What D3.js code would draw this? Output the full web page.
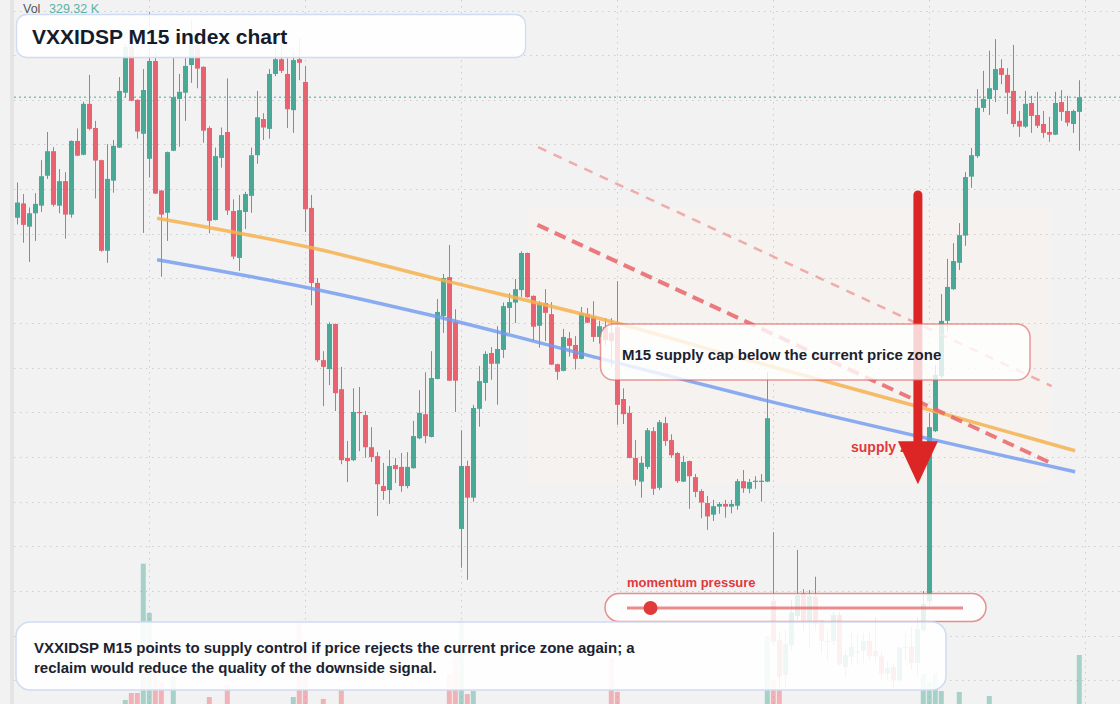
<!DOCTYPE html>
<html><head><meta charset="utf-8">
<script src="https://cdn.jsdelivr.net/npm/d3@7"></script>
<style>html,body{margin:0;padding:0;background:#f2f2f2;}svg{display:block;}</style>
</head><body>
<svg id="chart" width="1120" height="704"></svg>
<script>
// ---------- DATA ----------
const opens = [163.6,166.8,161.6,164.6,166.3,173.0,178.5,166.3,171.8,164.3,180.8,177.7,189.1,183.7,176.5,156.2,171.9,179.3,191.6,201.8,
190.0,182.4,176.8,198.7,169.7,164.7,178.6,190.2,191.6,197.8,202.3,197.4,183.7,163.1,177.0,182.8,165.1,154.6,164.9,168.5,
177.6,185.7,183.5,195.8,199.1,195.8,187.7,199.1,194.0,165.8,149.0,131.7,129.7,139.8,125.2,109.8,109.3,120.1,119.4,112.2,
110.2,103.5,102.6,108.2,107.8,103.5,107.5,114.2,119.6,114.5,127.5,141.6,150.3,140.3,93.9,108.0,100.9,120.8,126.6,133.3,
130.9,134.0,143.4,144.6,147.4,155.7,146.1,139.4,144.5,142.0,130.8,129.3,136.6,135.1,132.0,142.0,141.4,136.9,139.1,137.8,
139.1,123.0,119.9,109.8,104.5,107.8,115.8,103.1,117.6,113.8,110.9,104.5,109.1,105.5,102.4,99.7,97.1,98.9,99.5,98.9,
99.1,104.6,102.9,104.5,104.5,104.5,77.8,69.0,61.2,67.9,74.4,79.5,73.1,78.7,73.5,68.7,68.8,74.6,63.0,65.3,
66.3,66.6,68.8,66.6,65.4,61.5,63.0,60.0,67.4,67.5,63.9,71.2,77.7,115.8,128.1,140.5,147.6,153.5,159.6,172.8,
177.4,188.2,190.2,192.2,197.1,195.6,192.0,185.3,184.0,189.3,186.6,184.6,182.8,182.2,189.5,187.5,184.6,187.3];
const highs = [171.5,168.9,165.9,169.1,176.5,182.8,179.4,174.5,173.8,180.9,183.6,189.6,195.6,185.3,176.6,180.1,181.0,195.1,202.5,203.0,
190.1,196.9,209.7,200.7,169.8,178.4,199.4,195.8,199.4,207.9,203.4,197.5,184.1,179.3,183.8,194.8,167.7,168.7,169.4,179.3,
192.0,187.0,196.9,202.3,202.7,199.3,200.8,203.8,197.6,168.7,150.1,133.7,140.2,139.9,130.2,113.6,125.4,125.7,120.3,116.7,
111.1,108.7,111.6,109.8,110.9,111.1,118.1,125.0,129.0,133.7,145.4,151.0,157.5,143.1,116.0,109.2,121.7,130.4,133.7,134.6,
139.3,144.6,146.7,149.9,156.1,155.8,146.2,144.9,147.6,144.7,130.9,138.7,138.0,137.1,143.6,143.4,144.9,140.5,141.1,141.1,
149.4,125.4,121.4,113.8,110.2,116.5,116.7,118.3,119.0,115.1,111.1,110.3,109.2,106.2,102.8,101.3,100.4,99.9,100.4,100.4,
105.1,107.1,105.1,105.7,106.2,129.0,93.2,70.8,71.2,78.0,89.2,80.4,80.2,83.2,73.6,71.2,75.3,75.3,66.8,70.6,
70.6,70.6,70.6,74.2,66.4,64.1,63.8,67.5,70.6,72.0,74.2,80.0,119.9,130.6,146.5,154.4,157.9,162.4,173.8,179.2,
192.4,196.5,201.0,203.6,199.1,197.1,202.3,187.5,192.0,190.9,191.8,187.5,186.2,191.8,192.2,190.9,187.8,194.4];
const lows = [162.1,158.0,153.7,158.4,164.9,172.3,166.1,164.6,158.9,163.6,177.4,177.6,183.2,167.9,156.0,153.5,169.2,179.2,190.5,189.7,
181.3,160.2,172.6,168.9,150.4,158.4,178.5,179.5,185.3,193.8,192.6,180.4,160.1,163.0,174.8,164.2,154.3,151.7,161.1,164.7,
175.7,181.0,181.3,195.3,196.0,183.7,182.6,194.4,160.4,144.0,131.3,121.4,126.1,120.3,108.4,104.4,109.1,111.3,109.8,108.9,
96.8,100.4,99.5,104.2,102.2,103.0,107.4,114.0,113.1,114.4,127.4,137.8,127.0,120.1,85.2,82.5,100.0,116.8,122.6,127.3,
121.7,132.2,137.8,140.0,145.9,145.7,136.0,134.5,136.0,130.6,127.3,129.2,132.5,129.6,131.9,140.0,135.8,135.4,135.1,130.2,
117.2,117.4,109.7,103.6,100.9,107.3,101.5,102.6,112.5,109.8,104.2,104.4,98.4,101.0,96.3,93.7,95.7,97.3,96.4,97.4,
98.2,102.0,101.9,102.9,100.0,104.4,67.7,58.2,58.2,66.8,73.5,71.2,67.5,71.2,66.1,64.5,67.9,63.4,60.5,63.4,
63.4,63.9,64.5,64.1,60.0,60.0,58.2,59.6,64.5,62.3,60.8,70.8,76.8,115.6,127.7,138.2,147.4,151.9,157.3,170.3,
177.0,187.3,186.6,189.5,193.5,186.8,183.9,181.7,183.7,182.6,183.7,181.5,180.6,182.1,185.3,184.1,182.6,178.6];
const closes = [167.0,162.0,164.6,166.7,172.9,178.5,166.5,171.8,164.3,180.8,177.5,189.1,183.5,176.4,156.2,172.3,179.7,192.0,201.8,189.8,
182.9,192.2,198.7,169.0,164.3,178.3,190.6,191.8,197.6,202.7,197.0,183.1,162.9,177.4,182.1,165.2,154.9,165.3,168.9,177.6,
186.1,183.8,195.8,199.1,196.5,187.9,198.9,198.3,165.5,149.0,131.7,130.2,139.8,124.3,109.3,109.1,120.1,119.9,112.2,110.0,
103.9,102.4,108.0,107.3,103.5,107.8,114.7,119.9,114.7,127.7,142.5,150.1,127.1,127.1,108.0,100.9,121.0,127.0,133.1,130.9,
134.2,143.8,144.7,147.6,155.7,145.8,139.2,144.5,142.3,130.7,129.1,136.9,134.9,132.0,142.2,140.1,136.9,139.3,136.2,136.0,
121.7,119.6,109.8,104.9,108.7,116.0,102.9,117.8,113.6,110.4,104.6,108.9,105.7,102.2,99.8,96.7,99.0,99.5,98.9,99.5,
104.6,103.0,104.4,104.7,104.7,118.7,68.6,60.8,68.1,75.2,79.1,73.1,78.9,72.7,68.8,68.8,74.6,63.6,65.6,67.5,
66.5,68.8,65.4,65.4,61.5,62.7,60.0,67.3,67.5,63.8,71.5,77.1,116.7,128.4,140.5,148.1,153.9,159.7,172.7,177.6,
188.2,190.2,192.6,196.9,195.6,191.6,184.6,184.0,189.1,186.4,184.2,182.6,182.2,189.3,187.3,184.9,187.5,190.6];
// volume in thousands, one per candle
const volumes = (() => { const v = new Array(178).fill(0);
  const vis = {18:27,19:74,20:74,21:943,22:612,23:350,24:146,26:188,32:47,35:130,46:47,47:544,48:430,51:34,54:94,
    72:197,73:318,74:553,75:67,76:87,99:309,100:81,125:457,126:161,127:94,151:202,152:148,153:208,154:87,157:81,162:54,177:329.32};
  for (const k in vis) v[+k] = vis[k]; return v; })();

const priceTicks = [60,70,80,90,100,110,120,130,140,150,160,170,180,190,200,210];
const timeTicks = [22,48,74,100,126,152,178];

// trend lines as [candle index, price] anchors
const orangeLine = [[23.3,163.5],[49.6,156.7],[68.8,150.3],[99.1,140.3],[120.5,132.2],[149.3,121.6],[176.3,111.4]];
const blueLine   = [[23.3,154.2],[49.6,147.6],[68.8,141.8],[97.1,132.1],[123.8,123.0],[176.3,106.7]];
const supplyDash = [[86.7,162.0],[172.7,108.4]];
const upperDash  = [[86.8,179.4],[172.4,125.9]];
const zone = {from:85.0, to:172.3, top:166.0, bottom:104.2};
const arrowSig = {index:150.1, from:168.7, to:103.9};
const momentumValue = 0.07;

const titleText = "VXXIDSP M15 index chart";
const calloutText = "M15 supply cap below the current price zone";
const noteLines = ["VXXIDSP M15 points to supply control if price rejects the current price zone again; a",
                   "reclaim would reduce the quality of the downside signal."];

// ---------- DRAW ----------
const W=1120,H=704;
const UP="#4aa896", DN="#e8636f", FONT="'Liberation Sans', Arial, Helvetica, sans-serif";
const svg=d3.select("#chart");
const x=d3.scaleLinear().domain([0,177]).range([17.3,1079.3]);
const y=d3.scaleLinear().domain([100,200]).range([501.7,55.2]);
const yv=d3.scaleLinear().domain([0,1000]).range([704,555.2]);

svg.append("rect").attr("width",W).attr("height",H).attr("fill","#f2f2f2");

// zone
svg.append("rect").attr("x",x(zone.from)).attr("y",y(zone.top))
  .attr("width",x(zone.to)-x(zone.from)).attr("height",y(zone.bottom)-y(zone.top))
  .attr("fill","#f5f2ee").attr("opacity",0.75);

// grid
const grid=svg.append("g").attr("stroke","#cdcdcd").attr("stroke-width",1).attr("stroke-dasharray","1.5,4.5");
grid.selectAll(".h").data(priceTicks).join("line")
  .attr("x1",14).attr("x2",W).attr("y1",d=>Math.round(y(d))+0.5).attr("y2",d=>Math.round(y(d))+0.5);
grid.selectAll(".v").data(timeTicks).join("line")
  .attr("y1",0).attr("y2",H).attr("x1",d=>Math.round(x(d))+0.5).attr("x2",d=>Math.round(x(d))+0.5);

svg.append("rect").attr("x",10).attr("y",0).attr("width",4).attr("height",H).attr("fill","#e4e4e4");

const idx=d3.range(closes.length);
const isUp=i=>closes[i]>=opens[i];

// volume
svg.append("g").selectAll("rect").data(idx.filter(i=>volumes[i]>0)).join("rect")
  .attr("x",i=>x(i)-2.5).attr("width",5)
  .attr("y",i=>yv(volumes[i])).attr("height",i=>yv(0)-yv(volumes[i]))
  .attr("fill",i=>isUp(i)?UP:DN).attr("opacity",0.45);

// candles
const cg=svg.append("g");
cg.selectAll("line").data(idx).join("line")
  .attr("x1",i=>Math.round(x(i))+0.5).attr("x2",i=>Math.round(x(i))+0.5)
  .attr("y1",i=>y(highs[i])).attr("y2",i=>y(lows[i]))
  .attr("stroke",i=>isUp(i)?UP:DN).attr("stroke-width",1);
cg.selectAll("rect").data(idx).join("rect")
  .attr("x",i=>Math.round(x(i))-2).attr("width",5)
  .attr("y",i=>y(Math.max(opens[i],closes[i])))
  .attr("height",i=>Math.max(1.2,Math.abs(y(opens[i])-y(closes[i]))))
  .attr("fill",i=>isUp(i)?UP:DN);

// trend lines
const lineGen=d3.line().x(d=>x(d[0])).y(d=>y(d[1])).curve(d3.curveMonotoneX);
svg.append("path").attr("d",lineGen(orangeLine)).attr("fill","none")
  .attr("stroke","#f6b24f").attr("stroke-width",3.5).attr("opacity",0.85);
svg.append("path").attr("d",lineGen(blueLine)).attr("fill","none")
  .attr("stroke","#7199f0").attr("stroke-width",3.5).attr("opacity",0.8);
svg.append("path").attr("d",d3.line().x(d=>x(d[0])).y(d=>y(d[1]))(upperDash)).attr("fill","none")
  .attr("stroke","#ec8f8f").attr("stroke-width",2.5).attr("stroke-dasharray","9,8").attr("opacity",0.7);
svg.append("path").attr("d",d3.line().x(d=>x(d[0])).y(d=>y(d[1]))(supplyDash)).attr("fill","none")
  .attr("stroke","#e8656a").attr("stroke-width",4).attr("stroke-dasharray","12,7").attr("opacity",0.85);

// current price line
const last=closes[closes.length-1];
svg.append("line").attr("x1",14).attr("x2",W).attr("y1",y(last)).attr("y2",y(last))
  .attr("stroke",UP).attr("stroke-width",1).attr("stroke-dasharray","2,3");

// supply zone label + arrow
svg.append("text").attr("x",851).attr("y",452).text("supply zone")
  .attr("font-family",FONT).attr("font-weight","bold").attr("font-size",14).attr("fill","#e0393e");
const ax=x(arrowSig.index), headBase=y(arrowSig.to)-43;
svg.append("line").attr("x1",ax).attr("x2",ax).attr("y1",y(arrowSig.from)).attr("y2",headBase+4)
  .attr("stroke","#dc2626").attr("stroke-width",9).attr("stroke-linecap","round");
svg.append("path").attr("d",`M${ax-20},${headBase}L${ax+20},${headBase}L${ax},${y(arrowSig.to)}Z`).attr("fill","#dc2626");

// callout
svg.append("rect").attr("x",600.5).attr("y",324).attr("width",429.5).attr("height",56).attr("rx",13)
  .attr("fill","#ffffff").attr("fill-opacity",0.8).attr("stroke","#e06262").attr("stroke-opacity",0.65).attr("stroke-width",1.5);
svg.append("text").attr("x",622).attr("y",359.5).text(calloutText)
  .attr("font-family",FONT).attr("font-weight","bold").attr("font-size",15).attr("fill","#1b2230");

// momentum
svg.append("text").attr("x",627).attr("y",587).text("momentum pressure")
  .attr("font-family",FONT).attr("font-weight","bold").attr("font-size",13).attr("fill","#e0393e");
svg.append("rect").attr("x",605).attr("y",593.5).attr("width",381).attr("height",28).attr("rx",14)
  .attr("fill","#ffffff").attr("fill-opacity",0.85).attr("stroke","#e06262").attr("stroke-opacity",0.7).attr("stroke-width",1.5);
const mx=d3.scaleLinear().domain([0,1]).range([627,963]);
svg.append("line").attr("x1",mx(0)).attr("x2",mx(1)).attr("y1",608).attr("y2",608)
  .attr("stroke","#e26666").attr("stroke-opacity",0.75).attr("stroke-width",3.2);
svg.append("circle").attr("cx",mx(momentumValue)).attr("cy",608).attr("r",7).attr("fill","#e03a3a");

// bottom note
svg.append("rect").attr("x",16).attr("y",622).attr("width",930).attr("height",68).attr("rx",14)
  .attr("fill","#ffffff").attr("fill-opacity",0.9).attr("stroke","#cfdcf3").attr("stroke-width",1.5);
svg.append("g").selectAll("text").data(noteLines).join("text")
  .attr("x",34).attr("y",(d,i)=>653.3+i*20).text(d=>d)
  .attr("font-family",FONT).attr("font-weight","bold").attr("font-size",15).attr("fill","#1b2230");

// title
svg.append("rect").attr("x",16.5).attr("y",14.5).attr("width",509).attr("height",43).attr("rx",10)
  .attr("fill","#ffffff").attr("fill-opacity",0.9).attr("stroke","#cfdcf3").attr("stroke-width",1.3);
svg.append("text").attr("x",32).attr("y",43.5).text(titleText)
  .attr("font-family",FONT).attr("font-weight","bold").attr("font-size",21).attr("fill","#141c2b");

// vol label
svg.append("text").attr("x",23).attr("y",13).text("Vol")
  .attr("font-family",FONT).attr("font-size",12.5).attr("fill","#555");
svg.append("text").attr("x",49).attr("y",13).text(`${volumes[volumes.length-1].toFixed(2)} K`)
  .attr("font-family",FONT).attr("font-size",12.5).attr("fill","#5bb3a6");
</script>
</body></html>
